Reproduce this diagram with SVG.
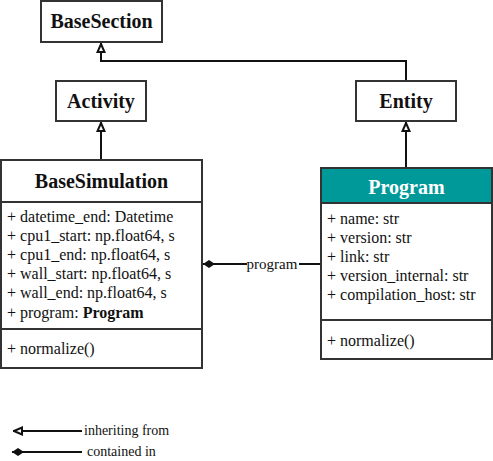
<svg xmlns="http://www.w3.org/2000/svg" width="493" height="461" viewBox="0 0 493 461">
<style>
.box{fill:#fff;stroke:#333;stroke-width:2}
.hdr{fill:#009999;stroke:#333;stroke-width:2}
.div{stroke:#333;stroke-width:2}
.ln{fill:none;stroke:#111;stroke-width:2}
text{font-family:'Liberation Serif','Tinos','Times New Roman','Nimbus Roman','FreeSerif',serif}
.t{font-size:20px;font-weight:bold;fill:#111;text-anchor:middle}
.tw{fill:#fff}
.a{font-size:16px;fill:#111}
.lg{font-size:14px;fill:#111}
.lb{font-size:15px;fill:#111;text-anchor:middle}
</style>
<defs>
<marker id="inh" viewBox="0 0 10 10" refX="0" refY="5" markerWidth="10" markerHeight="10" markerUnits="userSpaceOnUse" orient="auto">
<path d="M1,5 L9,1.5 L9,8.5 Z" fill="#fff" stroke="#111" stroke-width="2"/>
</marker>
<marker id="dia" viewBox="0 0 12 10" refX="0" refY="5" markerWidth="12" markerHeight="10" markerUnits="userSpaceOnUse" orient="auto">
<path d="M0,5 L6,1 L12,5 L6,9 Z" fill="#111"/>
</marker>
</defs>
<g id="connectors">
<path class="ln" d="M101,43 V61 H406 V81" marker-start="url(#inh)"/>
<path class="ln" d="M101,122 V160" marker-start="url(#inh)"/>
<path class="ln" d="M406,122 V168" marker-start="url(#inh)"/>
<path class="ln" d="M203,264 H321" marker-start="url(#dia)"/>
<rect x="247" y="256" width="52" height="16" fill="#fff"/>
<text class="lb" x="272" y="269">program</text>
</g>
<g id="BaseSection">
<rect class="box" x="41" y="1" width="121" height="41"/>
<text class="t" x="101.5" y="28">BaseSection</text>
</g>
<g id="Activity">
<rect class="box" x="56" y="81" width="90" height="40"/>
<text class="t" x="101" y="108">Activity</text>
</g>
<g id="Entity">
<rect class="box" x="356" y="81" width="100" height="40"/>
<text class="t" x="406" y="108">Entity</text>
</g>
<g id="BaseSimulation">
<rect class="box" x="1" y="160" width="201" height="208"/>
<line class="div" x1="1" y1="202" x2="202" y2="202"/>
<line class="div" x1="1" y1="329" x2="202" y2="329"/>
<text class="t" x="101.5" y="188">BaseSimulation</text>
<text class="a" x="7" y="222">+ datetime_end: Datetime</text>
<text class="a" x="7" y="241">+ cpu1_start: np.float64, s</text>
<text class="a" x="7" y="260">+ cpu1_end: np.float64, s</text>
<text class="a" x="7" y="279">+ wall_start: np.float64, s</text>
<text class="a" x="7" y="298">+ wall_end: np.float64, s</text>
<text class="a" x="7" y="318">+ program: <tspan font-weight="bold">Program</tspan></text>
<text class="a" x="7" y="354">+ normalize()</text>
</g>
<g id="Program">
<rect class="box" x="321" y="168" width="171" height="191"/>
<rect class="hdr" x="321" y="168" width="171" height="35"/>
<line class="div" x1="321" y1="320" x2="492" y2="320"/>
<text class="t tw" x="406.5" y="194">Program</text>
<text class="a" x="327" y="224">+ name: str</text>
<text class="a" x="327" y="243">+ version: str</text>
<text class="a" x="327" y="262">+ link: str</text>
<text class="a" x="327" y="281">+ version_internal: str</text>
<text class="a" x="327" y="300">+ compilation_host: str</text>
<text class="a" x="327" y="346">+ normalize()</text>
</g>
<g id="legend">
<path class="ln" d="M13,431 H82" marker-start="url(#inh)"/>
<text class="lg" x="84" y="435">inheriting from</text>
<path class="ln" d="M12,452 H82" marker-start="url(#dia)"/>
<text class="lg" x="87" y="456">contained in</text>
</g>
</svg>
